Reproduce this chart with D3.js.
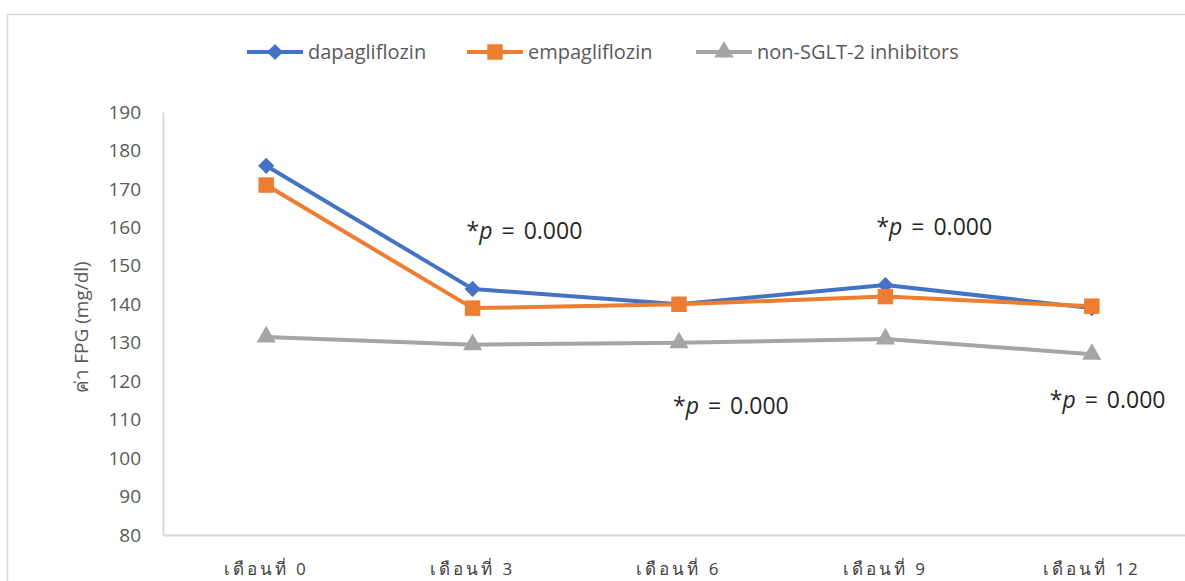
<!DOCTYPE html>
<html>
<head>
<meta charset="utf-8">
<script src="https://cdn.jsdelivr.net/npm/d3@7"></script>
<style>
  body { margin: 0; background: #fff; }
  svg text { font-family: "Open Sans", "Noto Sans", sans-serif; }
</style>
</head>
<body>
<div id="chart"></div>
<script>
// Data
const months = ["เดือนที่ 0", "เดือนที่ 3", "เดือนที่ 6", "เดือนที่ 9", "เดือนที่ 12"];
const dapagliflozin = [176, 144, 140, 145, 139];
const empagliflozin = [171, 139, 140, 142, 139.5];
const nonSglt2 = [131.5, 129.5, 130, 131, 127];
const yTicks = [80, 90, 100, 110, 120, 130, 140, 150, 160, 170, 180, 190];
// p-value notes: [month index, value the text sits at]
const pNotes = [[1, 157], [3, 158], [2, 111.5], [4, 113]];
const pNoteShift = [-6, -9, -6, -42];

const W = 1185, H = 581;
const plot = { left: 163, top: 112, width: 1032, bottom: 535 };

const svg = d3.select("#chart").append("svg")
    .attr("width", W)
    .attr("height", H);

// chart border
svg.append("rect")
    .attr("x", 7.5).attr("y", 14.5)
    .attr("width", W + 20).attr("height", H + 20)
    .attr("fill", "none")
    .attr("stroke", "#d9d9d9")
    .attr("stroke-width", 1.5);

const x = d3.scaleBand()
    .domain(months)
    .range([plot.left, plot.left + plot.width]);

const y = d3.scaleLinear()
    .domain([80, 190])
    .range([plot.bottom, plot.top]);

const cx = i => x(months[i]) + x.bandwidth() / 2;

// axes
const xAxis = svg.append("g")
    .attr("transform", `translate(0,${plot.bottom})`)
    .call(d3.axisBottom(x).tickSize(0).tickPadding(28));
xAxis.select(".domain").attr("stroke", "#d9d9d9").attr("stroke-width", 2);
xAxis.selectAll("text")
    .attr("fill", "#404040")
    .style("font-size", "17px")
    .style("letter-spacing", "3px");

const yAxis = svg.append("g")
    .attr("transform", `translate(${plot.left},0)`)
    .call(d3.axisLeft(y).tickValues(yTicks).tickSize(0).tickPadding(22));
yAxis.select(".domain").attr("stroke", "#d9d9d9").attr("stroke-width", 2);
yAxis.selectAll("text")
    .attr("fill", "#595959")
    .style("font-size", "19px");

// y axis title
svg.append("text")
    .attr("transform", `translate(88,327) rotate(-90)`)
    .attr("text-anchor", "middle")
    .attr("fill", "#595959")
    .style("font-size", "19px")
    .text("ค่า FPG (mg/dl)");

const diamond = d3.symbol().type(d3.symbolSquare).size(130);
const series = [
    { name: "dapagliflozin", values: dapagliflozin, color: "#4472c4", symbol: diamond, rot: 45 },
    { name: "empagliflozin", values: empagliflozin, color: "#ed7d31", symbol: d3.symbol().type(d3.symbolSquare).size(240), rot: 0 },
    { name: "non-SGLT-2 inhibitors", values: nonSglt2, color: "#a5a5a5", symbol: d3.symbol().type(d3.symbolTriangle).size(160), rot: 0 }
];

const line = d3.line()
    .x((d, i) => cx(i))
    .y(d => y(d));

series.forEach(s => {
    svg.append("path")
        .datum(s.values)
        .attr("d", line)
        .attr("fill", "none")
        .attr("stroke", s.color)
        .attr("stroke-width", 4)
        .attr("stroke-linejoin", "round");

    svg.selectAll(null)
        .data(s.values)
        .enter()
        .append("path")
        .attr("d", s.symbol)
        .attr("transform", (d, i) => `translate(${cx(i)},${y(d)}) rotate(${s.rot})`)
        .attr("fill", s.color);
});

// p-value annotations
pNotes.forEach(([i, v], k) => {
    const t = svg.append("text")
        .attr("x", cx(i) + pNoteShift[k])
        .attr("y", y(v))
        .attr("fill", "#262626")
        .style("font-size", "23px")
        .style("word-spacing", "3px");
    t.append("tspan").text("*");
    t.append("tspan").style("font-style", "italic").text("p");
    t.append("tspan").text(" = 0.000");
});

// legend
const legendX = [247, 467, 696];
const legend = svg.append("g");
series.forEach((s, i) => {
    const g = legend.append("g").attr("transform", `translate(${legendX[i]},52)`);
    g.append("line")
        .attr("x1", 0).attr("x2", 56)
        .attr("stroke", s.color)
        .attr("stroke-width", 4);
    g.append("path")
        .attr("d", s.symbol)
        .attr("transform", `translate(28,0) rotate(${s.rot})`)
        .attr("fill", s.color);
    g.append("text")
        .attr("x", 61)
        .attr("dy", "0.35em")
        .attr("fill", "#595959")
        .style("font-size", "20px")
        .text(s.name);
});
</script>
</body>
</html>
